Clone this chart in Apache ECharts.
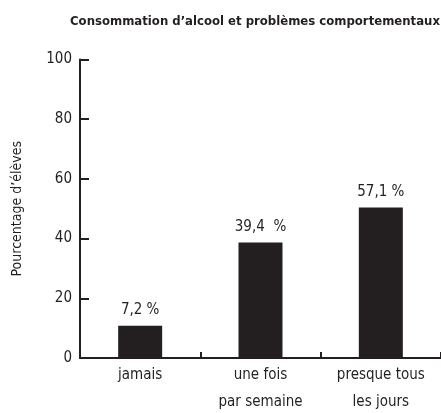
<!DOCTYPE html>
<html><head><meta charset="utf-8">
<script src="https://cdn.jsdelivr.net/npm/echarts@6/dist/echarts.min.js"></script>
<style>html,body{margin:0;padding:0;background:#fff}#c{width:441px;height:413px}</style>
</head><body><div id="c"></div>
<script>
var titleText = 'Consommation d\u2019alcool et problèmes comportementaux';
var yAxisName = 'Pourcentage d\u2019élèves';
var categories = ['jamais', 'une fois\npar semaine', 'presque tous\nles jours'];
var barValues = [10.8, 38.7, 50.4];
var barLabels = ['7,2 %', '39,4  %', '57,1 %'];
var yTicks = [0, 20, 40, 60, 80, 100];

var FONT = '"Liberation Sans Narrow", "DejaVu Sans Condensed", "Roboto", sans-serif';
var INK = '#231f20';
var chart = echarts.init(document.getElementById('c'), null, {renderer: 'canvas'});
chart.setOption({
  animation: false,
  title: {
    text: titleText, left: 250, top: 10, textAlign: 'center',
    textStyle: {fontFamily: FONT, fontSize: 13, fontWeight: 'bold', color: INK}
  },
  grid: {left: 80, right: 0, top: 59.5, bottom: 55, containLabel: false, outerBoundsMode: 'none'},
  xAxis: {
    type: 'category', data: categories,
    axisLine: {lineStyle: {color: INK, width: 2}},
    axisTick: {show: true, inside: true, length: 6, interval: 0, lineStyle: {color: INK, width: 2}},
    axisLabel: {fontFamily: FONT, fontSize: 15, color: INK, margin: 4, lineHeight: 27, interval: 0}
  },
  yAxis: {
    type: 'value', min: yTicks[0], max: yTicks[yTicks.length - 1], interval: 20,
    name: yAxisName, nameLocation: 'middle', nameGap: 56, nameRotate: 90,
    nameTextStyle: {fontFamily: FONT, fontSize: 14, color: INK},
    axisLine: {show: true, lineStyle: {color: INK, width: 2}},
    axisTick: {show: true, inside: true, length: 9, lineStyle: {color: INK, width: 2}},
    splitLine: {show: false},
    axisLabel: {fontFamily: FONT, fontSize: 15, color: INK, margin: 8}
  },
  series: [{
    type: 'bar', data: barValues, barWidth: 44,
    itemStyle: {color: INK},
    label: {
      show: true, position: 'top', distance: 8,
      fontFamily: FONT, fontSize: 15, color: INK,
      formatter: function (p) { return barLabels[p.dataIndex]; }
    }
  }]
});
</script></body></html>
